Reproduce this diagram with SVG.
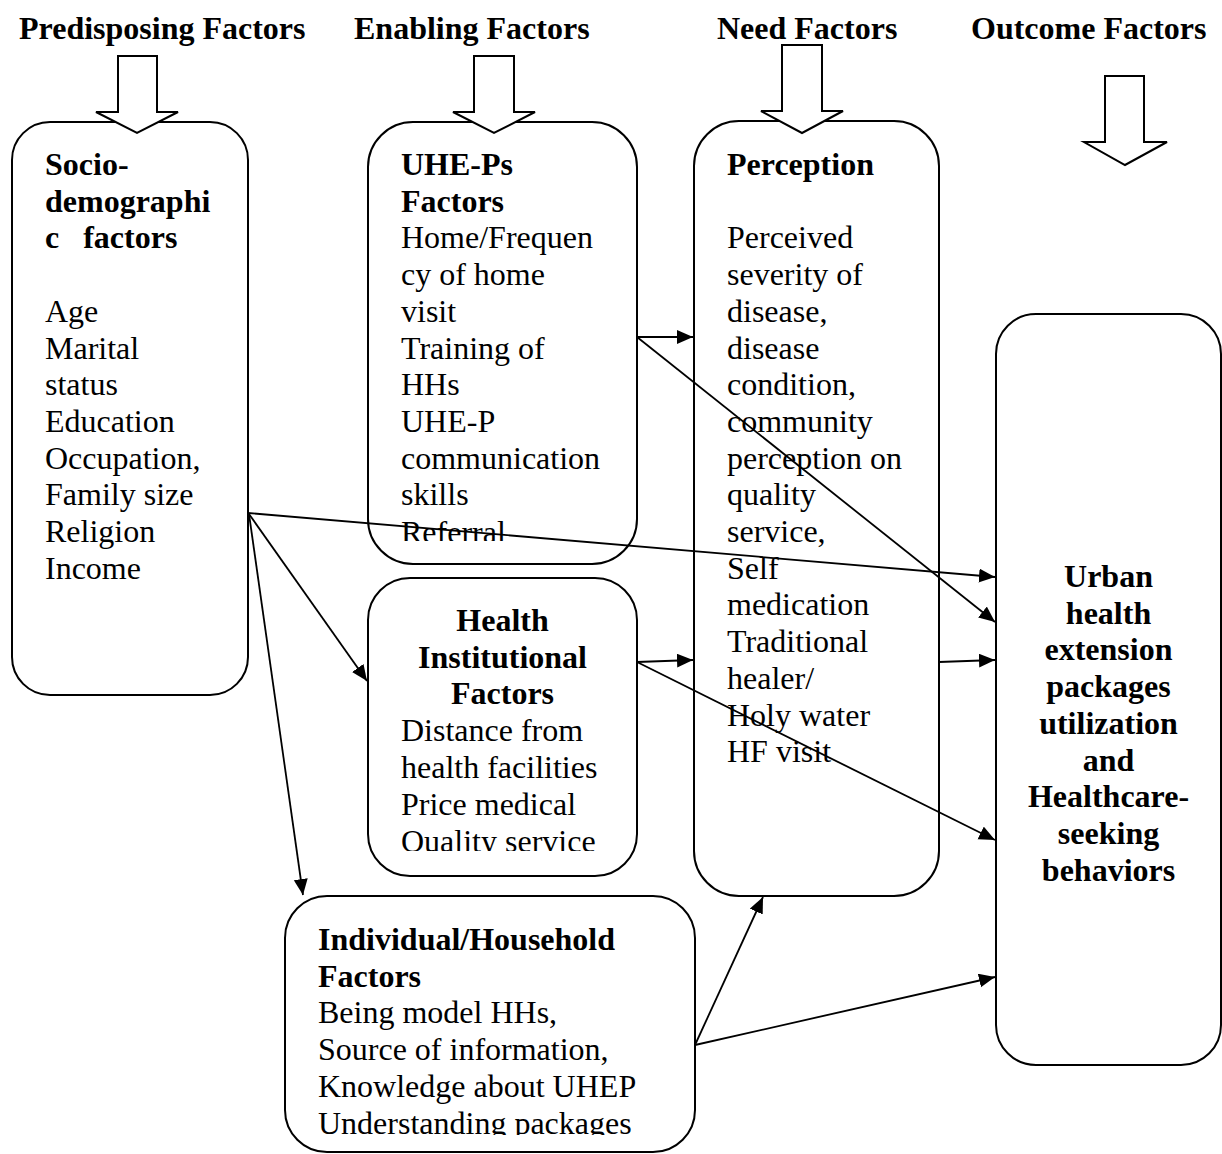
<svg xmlns="http://www.w3.org/2000/svg" width="1222" height="1154" viewBox="0 0 1222 1154">
<style>
text{font-family:"Liberation Serif","Times New Roman",serif;font-size:32px;fill:#000}
.b{font-weight:bold}
.c{text-anchor:middle}
.pre{white-space:pre}
.box{fill:#fff;stroke:#000;stroke-width:2}
.blk{fill:#fff;stroke:#000;stroke-width:2;stroke-linejoin:miter}
.ln{fill:none;stroke:#000;stroke-width:1.8}
</style>
<defs>
<marker id="ah" markerUnits="userSpaceOnUse" markerWidth="17" markerHeight="15" refX="16" refY="7" orient="auto">
<path d="M0,0 L16,7 L0,14 z" fill="#000"/>
</marker>
<clipPath id="clipB"><rect x="368" y="122" width="269" height="419"/></clipPath>
<clipPath id="clipC"><rect x="368" y="578" width="269" height="273"/></clipPath>
<clipPath id="clipF"><rect x="285" y="896" width="410" height="239"/></clipPath>
</defs>
<rect width="1222" height="1154" fill="#fff"/>

<g id="headers" class="b">
<text class="b" x="19" y="39">Predisposing Factors</text>
<text class="b" x="354" y="39">Enabling Factors</text>
<text class="b" x="717" y="39">Need Factors</text>
<text class="b" x="971" y="39">Outcome Factors</text>
</g>

<g id="node-socio">
<rect class="box" x="12" y="122" width="236" height="573" rx="38" ry="38"/>
<text class="b" x="45" y="175">Socio-</text>
<text class="b" x="45" y="211.7">demographi</text>
<text class="b pre" x="45" y="248.4">c   factors</text>
<text x="45" y="321.8">Age</text>
<text x="45" y="358.5">Marital</text>
<text x="45" y="395.2">status</text>
<text x="45" y="431.9">Education</text>
<text x="45" y="468.6">Occupation,</text>
<text x="45" y="505.3">Family size</text>
<text x="45" y="542">Religion</text>
<text x="45" y="578.7">Income</text>
</g>

<g id="node-uhep">
<rect class="box" x="368" y="122" width="269" height="442" rx="45" ry="45"/>
<g clip-path="url(#clipB)">
<text class="b" x="401" y="175">UHE-Ps</text>
<text class="b" x="401" y="211.7">Factors</text>
<text x="401" y="248.4">Home/Frequen</text>
<text x="401" y="285.1">cy of home</text>
<text x="401" y="321.8">visit</text>
<text x="401" y="358.5">Training of</text>
<text x="401" y="395.2">HHs</text>
<text x="401" y="431.9">UHE-P</text>
<text x="401" y="468.6">communication</text>
<text x="401" y="505.3">skills</text>
<text x="401" y="543">Referral</text>
</g>
</g>

<g id="node-health">
<rect class="box" x="368" y="578" width="269" height="298" rx="42" ry="42"/>
<g clip-path="url(#clipC)">
<text class="b c" x="502.5" y="631">Health</text>
<text class="b c" x="502.5" y="667.7">Institutional</text>
<text class="b c" x="502.5" y="704.4">Factors</text>
<text x="401" y="741.1">Distance from</text>
<text x="401" y="777.8">health facilities</text>
<text x="401" y="814.5">Price medical</text>
<text x="401" y="851.5">Quality service</text>
</g>
</g>

<g id="node-perception">
<rect class="box" x="694" y="121" width="245" height="775" rx="45" ry="45"/>
<text class="b" x="727" y="175">Perception</text>
<text x="727" y="248.4">Perceived</text>
<text x="727" y="285.1">severity of</text>
<text x="727" y="321.8">disease,</text>
<text x="727" y="358.5">disease</text>
<text x="727" y="395.2">condition,</text>
<text x="727" y="431.9">community</text>
<text x="727" y="468.6">perception on</text>
<text x="727" y="505.3">quality</text>
<text x="727" y="542">service,</text>
<text x="727" y="578.7">Self</text>
<text x="727" y="615.4">medication</text>
<text x="727" y="652.1">Traditional</text>
<text x="727" y="688.8">healer/</text>
<text x="727" y="725.5">Holy water</text>
<text x="727" y="762.2">HF visit</text>
</g>

<g id="node-outcome">
<rect class="box" x="996" y="314" width="225" height="751" rx="40" ry="40"/>
<text class="b c" x="1108.5" y="587">Urban</text>
<text class="b c" x="1108.5" y="623.7">health</text>
<text class="b c" x="1108.5" y="660.4">extension</text>
<text class="b c" x="1108.5" y="697.1">packages</text>
<text class="b c" x="1108.5" y="733.8">utilization</text>
<text class="b c" x="1108.5" y="770.5">and</text>
<text class="b c" x="1108.5" y="807.2">Healthcare-</text>
<text class="b c" x="1108.5" y="843.9">seeking</text>
<text class="b c" x="1108.5" y="880.6">behaviors</text>
</g>

<g id="node-individual">
<rect class="box" x="285" y="896" width="410" height="256" rx="42" ry="42"/>
<g clip-path="url(#clipF)">
<text class="b" x="318" y="950">Individual/Household</text>
<text class="b" x="318" y="986.7">Factors</text>
<text x="318" y="1023.4">Being model HHs,</text>
<text x="318" y="1060.1">Source of information,</text>
<text x="318" y="1096.8">Knowledge about UHEP</text>
<text x="318" y="1134">Understanding packages</text>
</g>
</g>

<g id="connectors">
<line class="ln" x1="248" y1="513" x2="995" y2="577" marker-end="url(#ah)"/>
<line class="ln" x1="249" y1="514" x2="367" y2="681" marker-end="url(#ah)"/>
<line class="ln" x1="249" y1="514" x2="303" y2="895" marker-end="url(#ah)"/>
<line class="ln" x1="637" y1="337" x2="693" y2="337" marker-end="url(#ah)"/>
<line class="ln" x1="637" y1="337" x2="995" y2="622" marker-end="url(#ah)"/>
<line class="ln" x1="637" y1="662" x2="693" y2="660" marker-end="url(#ah)"/>
<line class="ln" x1="637" y1="662" x2="995" y2="840" marker-end="url(#ah)"/>
<line class="ln" x1="939" y1="662" x2="995" y2="660" marker-end="url(#ah)"/>
<line class="ln" x1="695" y1="1045" x2="763" y2="897" marker-end="url(#ah)"/>
<line class="ln" x1="695" y1="1045" x2="995" y2="977" marker-end="url(#ah)"/>
</g>

<g id="block-arrows">
<polygon class="blk" points="118,56 157,56 157,112 178,112 137,133 96,112 118,112"/>
<polygon class="blk" points="474,56 514,56 514,112 535,112 494,133 453,112 474,112"/>
<polygon class="blk" points="782,45 822,45 822,111 843,111 802,133 761,111 782,111"/>
<polygon class="blk" points="1105,76 1144,76 1144,142 1167,142 1125,165 1084,142 1105,142"/>
</g>
</svg>
